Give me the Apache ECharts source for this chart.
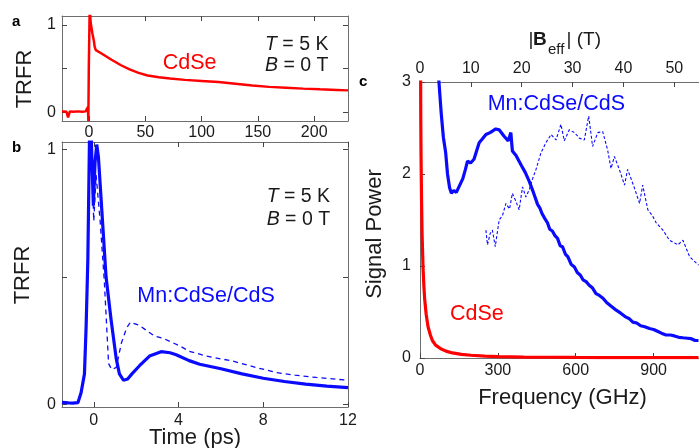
<!DOCTYPE html>
<html>
<head>
<meta charset="utf-8">
<script src="https://cdn.jsdelivr.net/npm/echarts@6/dist/echarts.min.js"></script>
<style>
html,body{margin:0;padding:0;background:#fff;}
#chart{width:699px;height:448px;}
</style>
</head>
<body>
<div id="chart"></div>
<script>
// ---------- Panel a: CdSe TRFR ----------
const aTime = [-24, -22, -20, -18.6, -17, -14, -10, -6, -3, -1.5, -1, -0.6, -0.2, 0.6, 1.5, 3, 4.4, 5, 6, 10, 15, 20, 28, 36, 44, 52, 62, 72, 85, 100, 115, 130, 145, 160, 175, 190, 205, 220, 230];
const aTRFR = [0.01, 0.01, 0.005, -0.06, 0.01, 0.005, 0.01, 0.005, 0.01, 0.02, 0.06, -0.1, 0.5, 1.2, 1.02, 0.9, 0.81, 0.75, 0.71, 0.68, 0.64, 0.60, 0.54, 0.49, 0.45, 0.42, 0.40, 0.385, 0.37, 0.358, 0.345, 0.325, 0.305, 0.29, 0.28, 0.27, 0.262, 0.255, 0.25];
const aXTicks = [0, 50, 100, 150, 200];

// ---------- Panel b: Mn:CdSe/CdS TRFR ----------
const bTimeSolid = [-1.5, -1.2, -1.0, -0.75, -0.6, -0.44, -0.36, -0.28, -0.2, -0.12, -0.02, 0.06, 0.14, 0.22, 0.35, 0.58, 0.82, 1.06, 1.21, 1.4, 1.6, 1.8, 2.16, 2.63, 3.18, 3.6, 3.89, 4.5, 5, 6, 7, 8, 9, 10, 11, 12];
const bSolid = [0.008, 0.006, 0.005, 0.007, 0.046, 0.12, 0.31, 0.57, 1.06, 1.05, 0.78, 0.95, 1.02, 0.97, 0.80, 0.50, 0.33, 0.18, 0.12, 0.095, 0.1, 0.12, 0.152, 0.19, 0.207, 0.203, 0.195, 0.172, 0.158, 0.14, 0.12, 0.103, 0.09, 0.08, 0.072, 0.066];
const bTimeDash = [-1.5, -1.0, -0.75, -0.6, -0.44, -0.36, -0.28, -0.2, -0.1, 0.0, 0.11, 0.3, 0.5, 0.7, 0.85, 1.06, 1.3, 1.55, 1.73, 2.16, 2.87, 3.26, 4.05, 4.5, 5.3, 6.57, 7.67, 8.62, 9.5, 10.5, 12];
const bDash = [0.008, 0.006, 0.007, 0.046, 0.12, 0.31, 0.57, 1.0, 0.95, 0.72, 0.9, 0.72, 0.48, 0.16, 0.137, 0.145, 0.24, 0.3, 0.323, 0.31, 0.268, 0.26, 0.23, 0.209, 0.19, 0.17, 0.145, 0.125, 0.115, 0.106, 0.095];
const bXTicks = [0, 4, 8, 12];

// ---------- Panel c: Signal power spectra ----------
const cFreqCdSe = [0.5, 2, 3, 4, 6, 8, 11.6, 15, 18, 24, 31, 40, 47.6, 60, 80, 100, 125, 160, 196, 250, 300, 400, 500, 600, 700, 800, 900, 1000, 1073];
const cCdSe = [6, 3.4, 2.6, 2.2, 1.7, 1.35, 0.99, 0.78, 0.64, 0.47, 0.34, 0.25, 0.19, 0.14, 0.10, 0.075, 0.055, 0.04, 0.03, 0.02, 0.015, 0.01, 0.008, 0.006, 0.005, 0.005, 0.004, 0.004, 0.004];
const cFreqMn = [66, 73, 82, 90, 99, 106, 114, 121, 130, 140, 150, 157, 165, 175, 183, 195, 208, 218, 228, 240, 254, 270, 292, 305, 324, 340, 350, 356, 370, 389, 405, 421, 437, 453, 462, 470, 480, 491, 500, 510, 520, 530, 540, 549, 560, 570, 582, 595, 606, 618, 628, 640, 652, 665, 678, 691, 705, 720, 738, 756, 772, 790, 805, 820, 835, 850, 866, 884, 900, 915, 930, 948, 965, 980, 997, 1013, 1030, 1045, 1060, 1073];
const cMn = [3.3, 3.0, 2.65, 2.4, 2.23, 2.0, 1.85, 1.79, 1.82, 1.8, 1.86, 1.88, 1.95, 2.05, 2.14, 2.12, 2.16, 2.25, 2.34, 2.38, 2.43, 2.45, 2.49, 2.48, 2.41, 2.36, 2.45, 2.25, 2.2, 2.10, 2.02, 1.92, 1.8, 1.67, 1.63, 1.57, 1.52, 1.47, 1.40, 1.38, 1.33, 1.3, 1.22, 1.21, 1.13, 1.1, 1.02, 0.99, 0.93, 0.9, 0.85, 0.83, 0.79, 0.76, 0.70, 0.68, 0.65, 0.6, 0.56, 0.52, 0.49, 0.45, 0.43, 0.39, 0.38, 0.35, 0.34, 0.32, 0.31, 0.29, 0.27, 0.25, 0.25, 0.24, 0.225, 0.22, 0.215, 0.21, 0.19, 0.19];
const cFreqMnDash = [254, 260, 270, 279, 290, 305, 318, 331, 345, 356, 370, 382, 395, 408, 421, 434, 447, 466, 485, 505, 524, 543, 556, 575, 595, 614, 633, 650, 665, 685, 704, 723, 736, 749, 768, 788, 800, 813, 826, 846, 858, 878, 895, 910, 936, 961, 994, 1013, 1039, 1073];
const cMnDash = [1.39, 1.23, 1.35, 1.39, 1.21, 1.50, 1.55, 1.68, 1.62, 1.79, 1.70, 1.61, 1.86, 1.75, 1.83, 1.95, 2.05, 2.23, 2.34, 2.43, 2.37, 2.54, 2.36, 2.48, 2.45, 2.39, 2.37, 2.63, 2.30, 2.45, 2.46, 2.26, 2.06, 2.19, 2.05, 1.88, 2.05, 1.95, 1.85, 1.68, 1.88, 1.61, 1.55, 1.47, 1.39, 1.28, 1.23, 1.28, 1.10, 1.01];
const cFreqTicks = [0, 300, 600, 900];
const cBTicks = [0, 10, 20, 30, 40, 50];
const cYTicks = [0, 1, 2, 3];

const FONT = 'Liberation Sans, Arial, Helvetica, sans-serif';
const RED = '#ff0000';
const BLUE = '#0a0aff';
const FRAME = '#6e6e6e';
const TXT = '#1a1a1a';

const zip = (xs, ys) => xs.map((x, i) => [x, ys[i]]);

function xAx(grid, min, max, ticks, opts) {
  opts = opts || {};
  return {
    type: 'value', gridIndex: grid, min: min, max: max,
    position: opts.position || 'bottom',
    axisLine: { show: true, onZero: false, lineStyle: { color: FRAME, width: 1 } },
    axisTick: { show: true, inside: true, length: 5, customValues: ticks, lineStyle: { color: '#444', width: 1 } },
    axisLabel: { show: opts.labels !== false, customValues: ticks, fontSize: 16, fontFamily: FONT, color: TXT, margin: opts.margin || 5 },
    splitLine: { show: false }
  };
}
function yAx(grid, min, max, ticks, labels, opts) {
  opts = opts || {};
  return {
    type: 'value', gridIndex: grid, min: min, max: max,
    position: opts.position || 'left',
    axisLine: { show: true, onZero: false, lineStyle: { color: FRAME, width: 1 } },
    axisTick: { show: true, inside: true, length: 5, customValues: ticks, lineStyle: { color: '#444', width: 1 } },
    axisLabel: { show: !!labels, customValues: labels || ticks, fontSize: 16, fontFamily: FONT, color: TXT, margin: opts.margin || 6 },
    splitLine: { show: false }
  };
}

function txt(text, x, y, size, color, extra) {
  const st = Object.assign({ text: text, x: 0, y: 0, fontSize: size, fontFamily: FONT, fill: color || TXT, align: 'left', verticalAlign: 'middle' }, (extra && extra.style) || {});
  const el = { type: 'text', x: x, y: y, style: st, silent: true };
  if (extra && extra.rotation) el.rotation = extra.rotation;
  return el;
}

const italicRich = { i: { fontStyle: 'italic', fontSize: 19.5, fontFamily: FONT, fill: TXT } };

const chart = echarts.init(document.getElementById('chart'), null, { renderer: 'canvas' });
chart.setOption({
  animation: false,
  backgroundColor: '#ffffff',
  grid: [
    { left: 62, top: 16, width: 286, height: 105 },
    { left: 62, top: 142, width: 286, height: 265 },
    { left: 420, top: 82, width: 279, height: 276 }
  ],
  xAxis: [
    xAx(0, -24, 230, aXTicks, { margin: 4 }),
    xAx(0, -24, 230, aXTicks, { position: 'top', labels: false }),
    xAx(1, -1.5, 12, bXTicks, { margin: 6 }),
    xAx(1, -1.5, 12, bXTicks, { position: 'top', labels: false }),
    xAx(2, 0, 1075, cFreqTicks, { margin: 5 }),
    xAx(2, 0, 1075 / 19.6, cBTicks, { position: 'top', margin: 5 })
  ],
  yAxis: [
    yAx(0, -0.1, 1.1, [0, 0.5, 1], [0, 1]),
    yAx(0, -0.1, 1.1, [0, 0.5, 1], null, { position: 'right' }),
    yAx(1, -0.01, 1.03, [0, 0.5, 1], [0, 1]),
    yAx(1, -0.01, 1.03, [0, 0.5, 1], null, { position: 'right' }),
    yAx(2, 0, 3, cYTicks, cYTicks, { margin: 9 })
  ],
  series: [
    { type: 'line', name: 'CdSe TRFR', xAxisIndex: 0, yAxisIndex: 0, data: zip(aTime, aTRFR), showSymbol: false, clip: true, lineStyle: { color: RED, width: 2.5 }, itemStyle: { color: RED } },
    { type: 'line', name: 'Mn:CdSe/CdS dashed', xAxisIndex: 2, yAxisIndex: 2, data: zip(bTimeDash, bDash), showSymbol: false, clip: true, lineStyle: { color: BLUE, width: 1.3, type: [5, 4] }, itemStyle: { color: BLUE } },
    { type: 'line', name: 'Mn:CdSe/CdS', xAxisIndex: 2, yAxisIndex: 2, data: zip(bTimeSolid, bSolid), showSymbol: false, clip: true, lineStyle: { color: BLUE, width: 3.2 }, itemStyle: { color: BLUE } },
    { type: 'line', name: 'CdSe spectrum', xAxisIndex: 4, yAxisIndex: 4, data: zip(cFreqCdSe, cCdSe), showSymbol: false, clip: true, lineStyle: { color: RED, width: 3.2 }, itemStyle: { color: RED } },
    { type: 'line', name: 'Mn dashed spectrum', xAxisIndex: 4, yAxisIndex: 4, data: zip(cFreqMnDash, cMnDash), showSymbol: false, clip: true, lineStyle: { color: BLUE, width: 1.1, type: [3, 2] }, itemStyle: { color: BLUE } },
    { type: 'line', name: 'Mn spectrum', xAxisIndex: 4, yAxisIndex: 4, data: zip(cFreqMn, cMn), showSymbol: false, clip: true, lineStyle: { color: BLUE, width: 3.2 }, itemStyle: { color: BLUE } }
  ],
  graphic: [
    // panel letters
    txt('a', 12, 21.5, 15, '#000', { style: { fontWeight: 'bold' } }),
    txt('b', 12, 147.5, 15, '#000', { style: { fontWeight: 'bold' } }),
    txt('c', 359, 81.5, 15, '#000', { style: { fontWeight: 'bold' } }),
    // axis titles
    txt('TRFR', 24.5, 79, 22, TXT, { rotation: Math.PI / 2, style: { align: 'center' } }),
    txt('TRFR', 22.8, 275, 22, TXT, { rotation: Math.PI / 2, style: { align: 'center' } }),
    txt('Time (ps)', 195, 437.8, 22, TXT, { style: { align: 'center' } }),
    txt('Signal Power', 374.5, 234, 22, TXT, { rotation: Math.PI / 2, style: { align: 'center' } }),
    txt('Frequency (GHz)', 562.5, 397.8, 22, TXT, { style: { align: 'center' } }),
    // |B_eff| (T)
    txt('|', 528.5, 40.1, 19, TXT),
    txt('B', 533, 40.1, 19, TXT, { style: { fontWeight: 'bold' } }),
    txt('eff', 548, 50.1, 15, TXT),
    txt('| (T)', 566.5, 40.1, 19, TXT),
    // annotations panel a
    txt('{i|T} = 5 K', 265, 45, 19.5, TXT, { style: { rich: italicRich } }),
    txt('{i|B} = 0 T', 265, 66, 19.5, TXT, { style: { rich: italicRich } }),
    txt('CdSe', 162.7, 63, 21.5, RED),
    // annotations panel b
    txt('{i|T} = 5 K', 266.7, 196.5, 19.5, TXT, { style: { rich: italicRich } }),
    txt('{i|B} = 0 T', 266.7, 219.5, 19.5, TXT, { style: { rich: italicRich } }),
    txt('Mn:CdSe/CdS', 137.3, 296.5, 21.5, BLUE),
    // annotations panel c
    txt('Mn:CdSe/CdS', 487.7, 104.5, 21.5, BLUE),
    txt('CdSe', 450, 314.5, 21.5, RED)
  ]
});
</script>
</body>
</html>
